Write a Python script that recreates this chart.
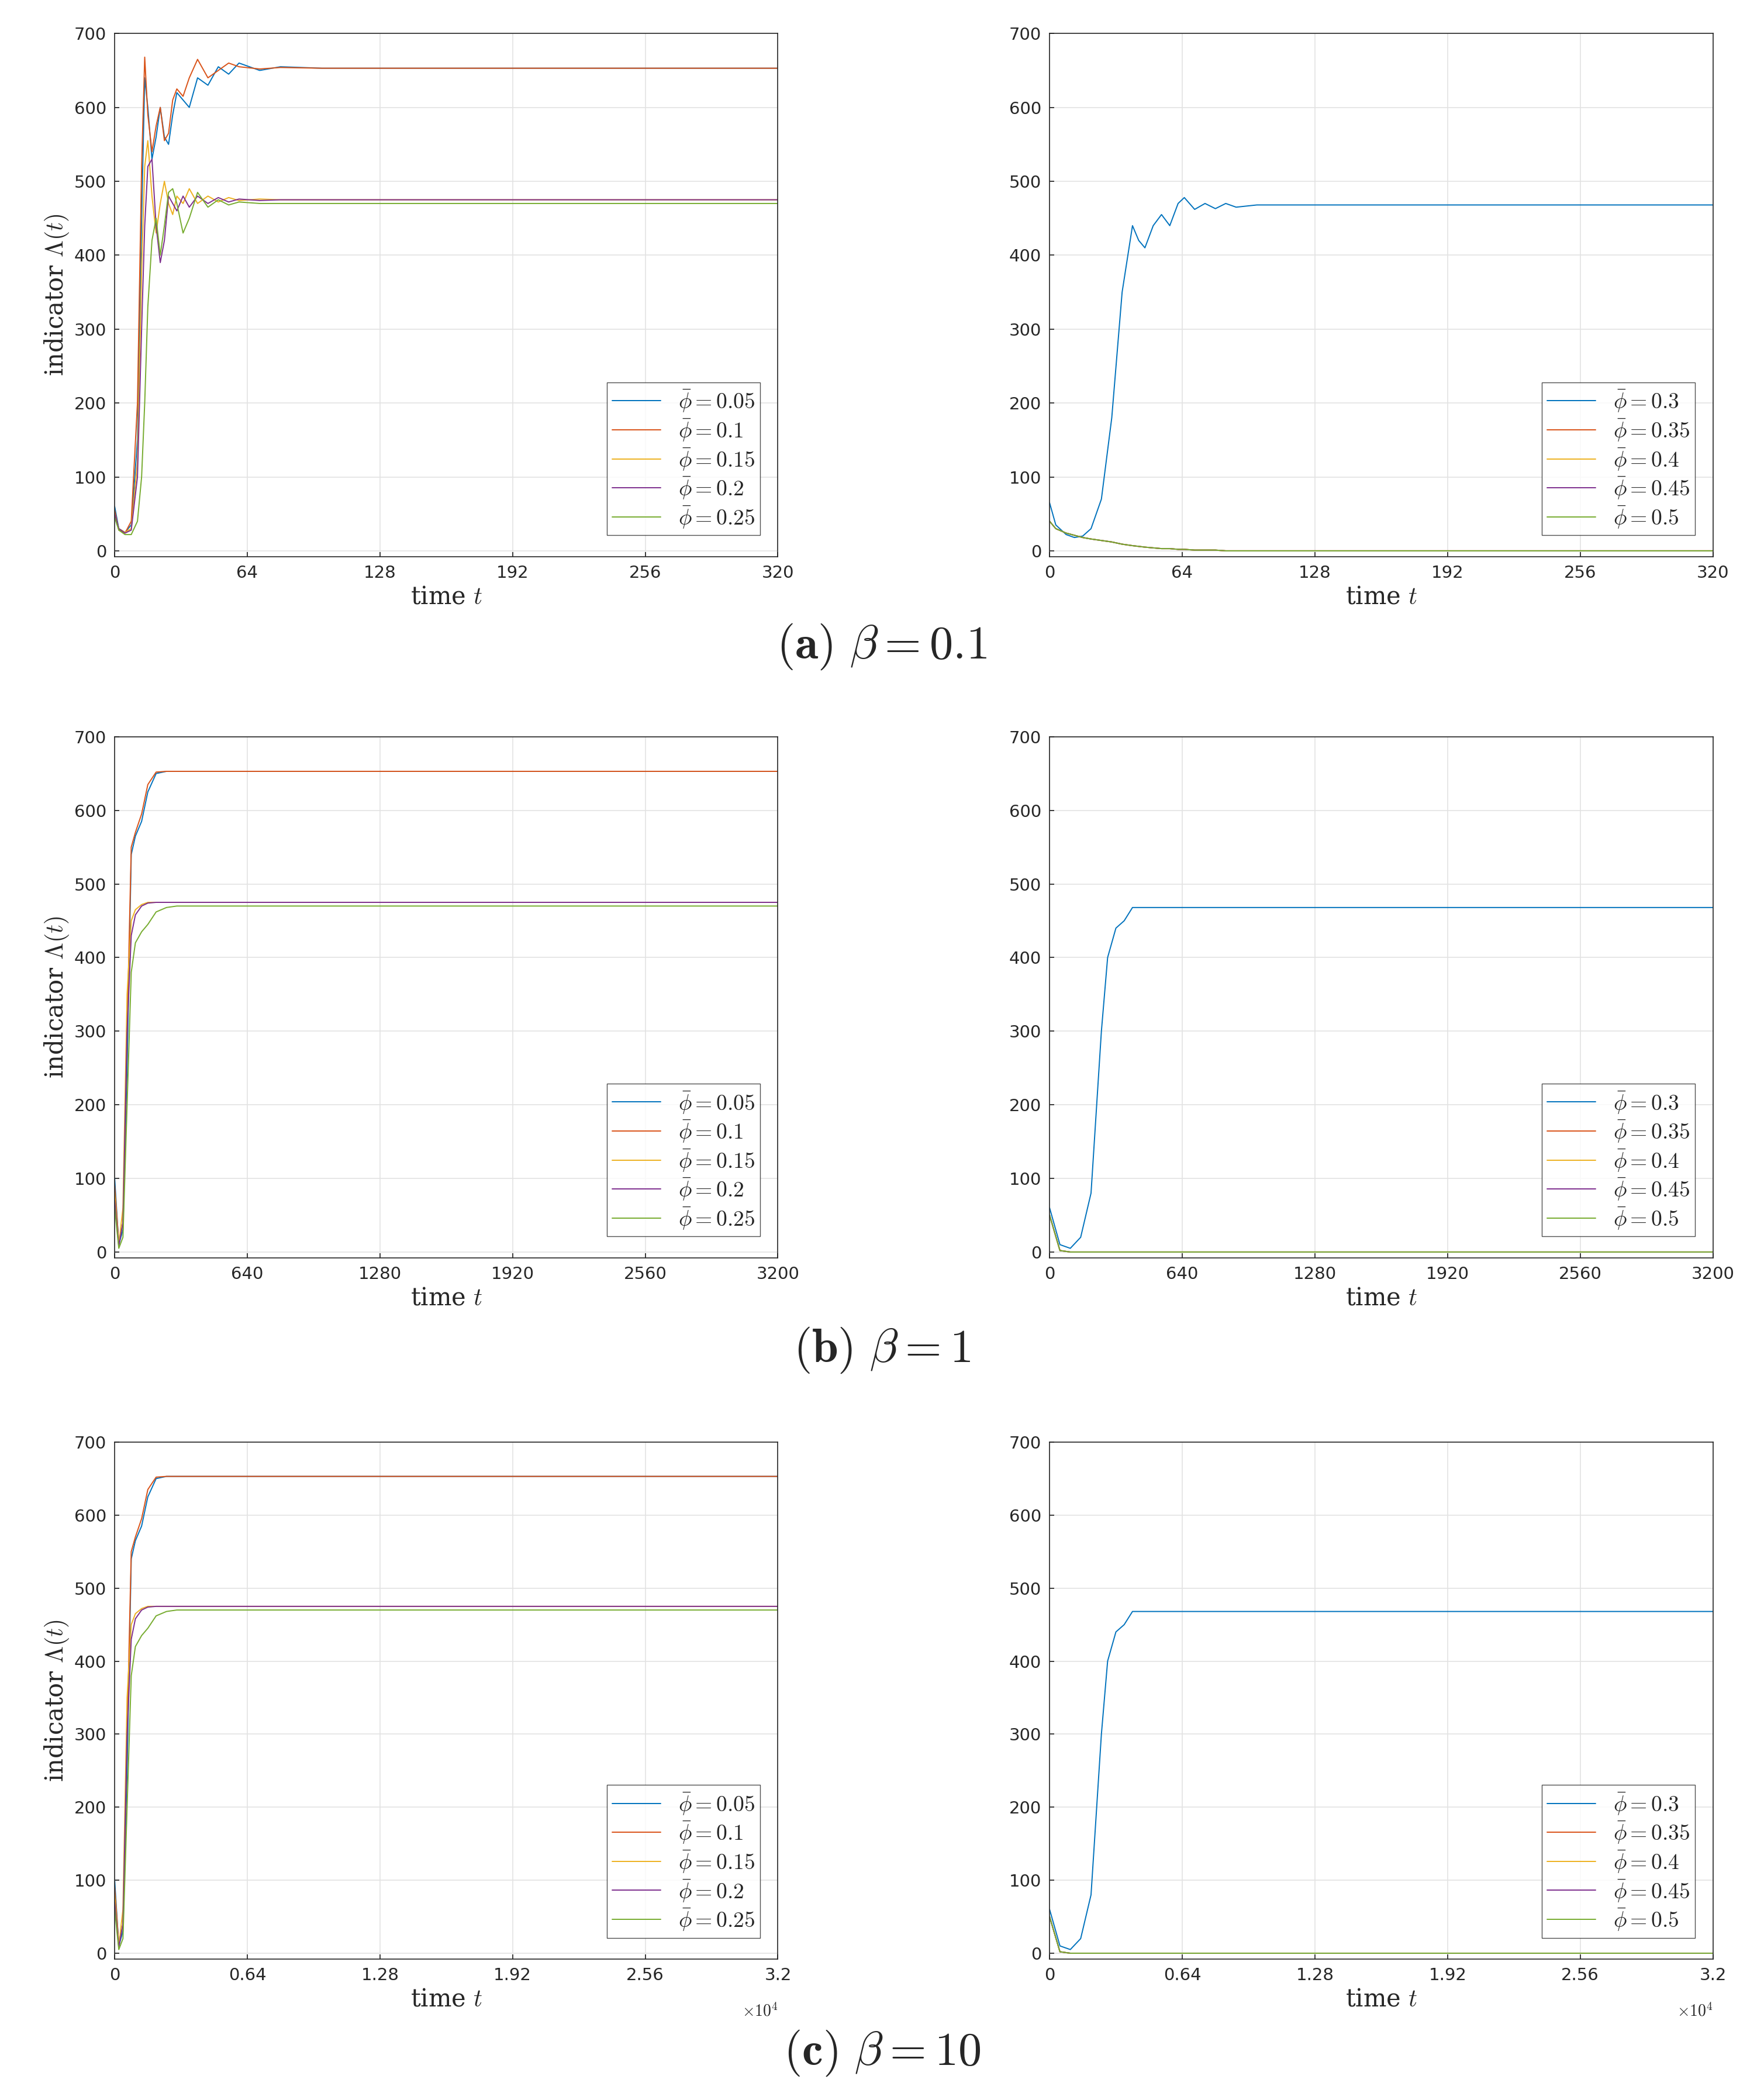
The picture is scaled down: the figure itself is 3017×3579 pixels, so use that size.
import numpy as np, pandas as pd, matplotlib
matplotlib.use("Agg")
import matplotlib.pyplot as plt, seaborn as sns
from matplotlib.ticker import FuncFormatter

sns.set_theme(style="ticks")
plt.rcParams['font.family'] = ['DejaVu Sans']
plt.rcParams['mathtext.fontset'] = 'cm'

colors = ["#0072BD", "#D95319", "#EDB120", "#7E2F8E", "#77AC30"]
phis_left = ["0.05", "0.1", "0.15", "0.2", "0.25"]
phis_right = ["0.3", "0.35", "0.4", "0.45", "0.5"]

# beta = 0.1, left
tA = [0, 2, 5, 8, 11, 13, 14.5, 16, 18, 20, 22, 24, 26, 28, 30, 33, 36, 40, 45, 50, 55, 60, 70, 80, 100, 320]
aL = [
 [60, 30, 25, 35, 150, 450, 640, 600, 530, 560, 600, 560, 550, 590, 620, 610, 600, 640, 630, 655, 645, 660, 650, 655, 653, 653],
 [55, 28, 24, 40, 200, 520, 668, 590, 540, 575, 600, 555, 565, 610, 625, 615, 640, 665, 640, 650, 660, 655, 652, 654, 653, 653],
 [50, 30, 25, 30, 120, 380, 520, 555, 480, 430, 470, 500, 470, 455, 480, 470, 490, 470, 480, 472, 478, 474, 476, 475, 475, 475],
 [50, 30, 24, 28, 100, 300, 440, 520, 530, 440, 390, 420, 480, 470, 460, 480, 465, 480, 470, 478, 472, 476, 474, 475, 475, 475],
 [45, 28, 22, 22, 40, 100, 200, 330, 420, 450, 400, 440, 485, 490, 470, 430, 450, 485, 465, 475, 468, 472, 470, 470, 470, 470],
]
tAR = [0, 3, 8, 12, 16, 20, 25, 30, 35, 40, 43, 46, 50, 54, 58, 62, 65, 70, 75, 80, 85, 90, 100, 320]
aR0 = [65, 35, 22, 18, 20, 30, 70, 180, 350, 440, 420, 410, 440, 455, 440, 470, 478, 462, 470, 463, 470, 465, 468, 468]
aRd = [40, 30, 24, 21, 18, 16, 14, 12, 9, 7, 6, 5, 4, 3, 3, 2, 2, 1, 1, 1, 0, 0, 0, 0]

# beta = 1 (and 10 scaled)
tB = [0, 20, 40, 60, 80, 100, 130, 160, 200, 250, 300, 3200]
bL = [
 [100, 10, 30, 250, 540, 565, 585, 625, 650, 653, 653, 653],
 [90, 12, 40, 300, 550, 570, 595, 635, 652, 653, 653, 653],
 [80, 10, 60, 350, 450, 465, 472, 475, 475, 475, 475, 475],
 [70, 8, 40, 300, 430, 458, 470, 474, 475, 475, 475, 475],
 [60, 5, 20, 200, 380, 420, 435, 445, 462, 468, 470, 470],
]
tBR = [0, 50, 100, 150, 200, 250, 280, 320, 360, 400, 450, 3200]
bR0 = [60, 10, 5, 20, 80, 300, 400, 440, 450, 468, 468, 468]
bRd = [50, 2, 0, 0, 0, 0, 0, 0, 0, 0, 0, 0]

def frame(t, series, labels):
    rows = []
    for lab, vals in zip(labels, series):
        for ti, v in zip(t, vals):
            rows.append((ti, v, lab))
    return pd.DataFrame(rows, columns=["t", "v", "phi"])

fig = plt.figure(figsize=(30.17, 35.79), dpi=100)
rowpos = [(0.734, 0.250), (0.399, 0.249), (0.064, 0.247)]
xl = 0.065; xr = 0.595; w = 0.376
captions = [r'$\mathbf{(a)}\ \beta = 0.1$', r'$\mathbf{(b)}\ \beta = 1$', r'$\mathbf{(c)}\ \beta = 10$']
capy = [0.691, 0.355, 0.019]
scales = [1, 1, 10]
data_left = [(tA, aL), (tB, bL), (tB, bL)]
data_right = [(tAR, [aR0] + [aRd]*4), (tBR, [bR0] + [bRd]*4), (tBR, [bR0] + [bRd]*4)]
xmax = [320, 3200, 32000]

for r in range(3):
    y0, h = rowpos[r]
    for side, x0, (t, ser), labs in [(0, xl, data_left[r], phis_left), (1, xr, data_right[r], phis_right)]:
        ax = fig.add_axes([x0, y0, w, h])
        tt = [v * scales[r] for v in t]
        tt[-1] = xmax[r]
        df = frame(tt, ser, [r'$\bar{\phi} = \mathbf{%s}$' % p for p in labs])
        sns.lineplot(data=df, x="t", y="v", hue="phi", palette=colors, ax=ax, linewidth=1.4, legend=True)
        ax.set_xlim(0, xmax[r]); ax.set_ylim(-8, 700)
        ax.set_xticks(np.linspace(0, xmax[r], 6)); ax.set_yticks(range(0, 701, 100))
        if r == 2:
            ax.xaxis.set_major_formatter(FuncFormatter(lambda v, p: '%g' % (v / 1e4)))
            ax.text(1.0, -0.085, r'$\times10^4$', transform=ax.transAxes, ha='right', va='top', fontsize=20)
        ax.grid(True, color="#e3e3e3", linewidth=1.2)
        ax.tick_params(labelsize=21, direction="in", length=6, pad=10)
        for s in ax.spines.values():
            s.set_color("#262626"); s.set_linewidth(1.2)
        ax.set_xlabel(r'time $t$', fontsize=30, family='DejaVu Serif')
        ax.set_ylabel(r'indicator $\Lambda(t)$' if side == 0 else '', fontsize=30, family='DejaVu Serif')
        ax.legend(loc="lower right", bbox_to_anchor=(0.99, 0.02), fontsize=27, frameon=True,
                  fancybox=False, edgecolor="#262626", handlelength=2.2, borderpad=0.25, labelspacing=0.15)
    fig.text(0.5, capy[r], captions[r], ha='center', va='center', fontsize=58)

fig.savefig("out.png", dpi=100, facecolor="white")
